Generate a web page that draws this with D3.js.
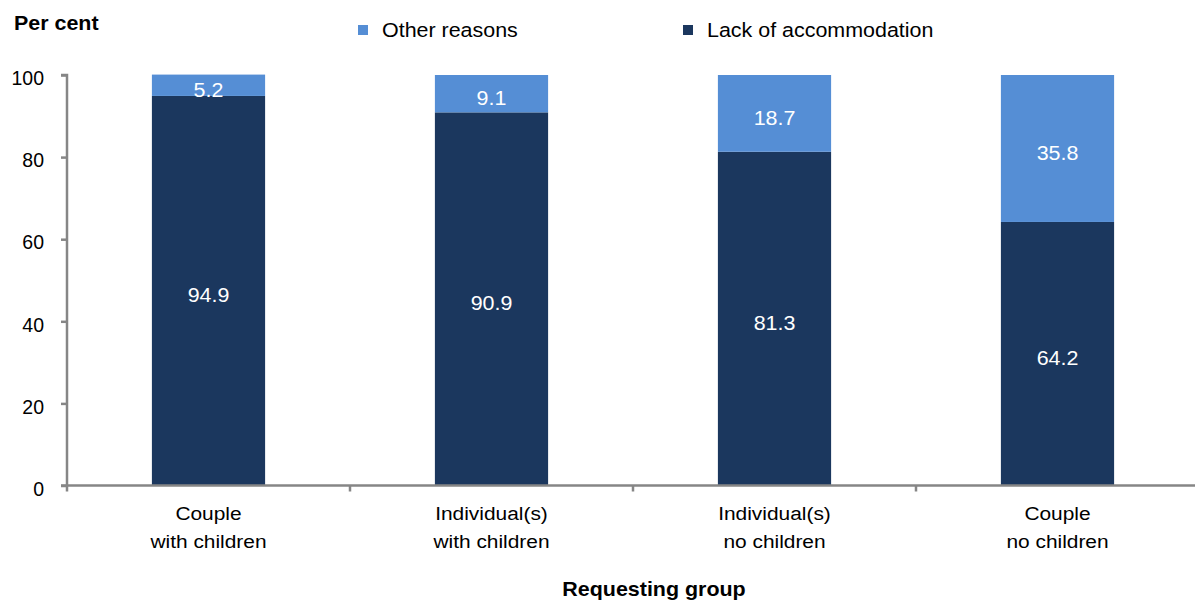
<!DOCTYPE html>
<html>
<head>
<meta charset="utf-8">
<script src="https://cdn.jsdelivr.net/npm/d3@7"></script>
<style>
  html, body { margin: 0; padding: 0; background: #fff; }
  text { font-family: "Liberation Sans", Arial, sans-serif; }
</style>
</head>
<body>
<svg id="chart" width="1195" height="604"></svg>
<script>
// Requesting groups and the share of each reason (per cent)
const categories = [
  ["Couple", "with children"],
  ["Individual(s)", "with children"],
  ["Individual(s)", "no children"],
  ["Couple", "no children"]
];
const lackOfAccommodation = [94.9, 90.9, 81.3, 64.2];
const otherReasons = [5.2, 9.1, 18.7, 35.8];
const yTicks = [0, 20, 40, 60, 80, 100];
const seriesNames = ["Lack of accommodation", "Other reasons"];
const seriesColors = ["#1b375e", "#558ed5"];

const svg = d3.select("#chart");
const margin = { left: 67, right: -4, top: 75, bottom: 118.5 };
const W = 1195, H = 604;
const FS = 19.5;      // base font size
const STRETCH = 1.1;  // slightly wide lettering

// Helper: place a text item at (px, py), widened horizontally
function label(parent, px, py, str, opts = {}) {
  return parent.append("text")
    .attr("transform", `translate(${px},${py}) scale(${STRETCH},1)`)
    .attr("text-anchor", opts.anchor || "start")
    .attr("font-size", opts.size || FS)
    .attr("font-weight", opts.bold ? "bold" : null)
    .attr("fill", opts.fill || "#000")
    .text(str);
}

const x = d3.scaleBand()
  .domain(d3.range(categories.length))
  .range([margin.left, W - margin.right])
  .paddingInner(0.6).paddingOuter(0.3);

const y = d3.scaleLinear().domain([0, 100]).range([H - margin.bottom, margin.top]);

const rows = categories.map((c, i) => ({ i, lack: lackOfAccommodation[i], other: otherReasons[i] }));
const layers = d3.stack().keys(["lack", "other"])(rows);

// Stacked bars with centred value labels
const g = svg.append("g");
layers.forEach((layer, li) => {
  g.selectAll(null).data(layer).enter().append("rect")
    .attr("x", d => x(d.data.i))
    .attr("width", x.bandwidth())
    .attr("y", d => y(d[1]))
    .attr("height", d => y(d[0]) - y(d[1]))
    .attr("fill", seriesColors[li]);
  layer.forEach(d => {
    label(g, x(d.data.i) + x.bandwidth() / 2, (y(d[0]) + y(d[1])) / 2 + 11.5,
      (d[1] - d[0]).toFixed(1), { anchor: "middle", fill: "#fff" });
  });
});

// Y axis
const yAxis = d3.axisLeft(y).tickValues(yTicks).tickSize(6).tickPadding(17);
const ya = svg.append("g").attr("transform", `translate(${margin.left},0)`).call(yAxis);
ya.select(".domain").attr("stroke", "#868686").attr("stroke-width", 2.5)
  .attr("d", `M-6,${y(100)}H0V${y(0)}`);
ya.selectAll(".tick line").attr("stroke", "#868686").attr("stroke-width", 2.5);
ya.selectAll(".tick text").attr("font-size", FS).attr("fill", "#000").attr("dy", "0.5em")
  .attr("font-family", "'Liberation Sans', Arial, sans-serif");

// X axis line with boundary ticks between groups
const xa = svg.append("g");
xa.append("line")
  .attr("x1", margin.left - 6).attr("x2", W)
  .attr("y1", y(0)).attr("y2", y(0))
  .attr("stroke", "#868686").attr("stroke-width", 2.5);
const step = x.step();
d3.range(categories.length + 1).forEach(k => {
  const bx = margin.left + k * step;
  xa.append("line")
    .attr("x1", bx).attr("x2", bx)
    .attr("y1", y(0)).attr("y2", y(0) + 6)
    .attr("stroke", "#868686").attr("stroke-width", 2.5);
});

// Category labels (two lines each)
categories.forEach((lines, i) => {
  lines.forEach((ln, j) => {
    label(svg, x(i) + x.bandwidth() / 2, 519.5 + j * 28.5, ln, { anchor: "middle", size: 19 });
  });
});

// Axis titles
label(svg, 14, 30, "Per cent", { bold: true });
label(svg, 654, 596, "Requesting group", { anchor: "middle", bold: true });

// Legend
const legendItems = [
  { name: seriesNames[1], color: seriesColors[1], x: 358 },
  { name: seriesNames[0], color: seriesColors[0], x: 683 }
];
legendItems.forEach(it => {
  svg.append("rect").attr("x", it.x).attr("y", 25).attr("width", 10).attr("height", 10)
    .attr("fill", it.color);
  label(svg, it.x + 24, 37, it.name);
});
</script>
</body>
</html>
